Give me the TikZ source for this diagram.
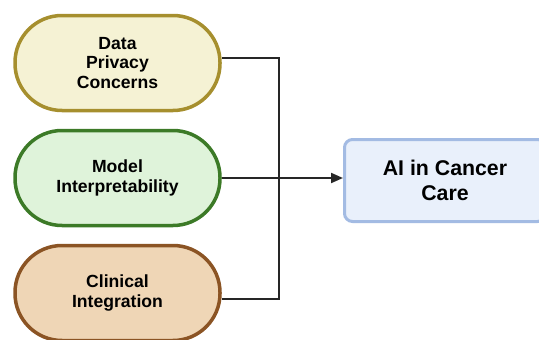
\documentclass[tikz,border=0pt]{standalone}
\usepackage{fontspec}
\setmainfont{Liberation Sans}
\usepackage{tikz}
\usetikzlibrary{arrows.meta}

\definecolor{privacyfill}{HTML}{F5F2D4}
\definecolor{privacyline}{HTML}{A68F2E}
\definecolor{modelfill}{HTML}{DFF3DA}
\definecolor{modelline}{HTML}{3C7A27}
\definecolor{clinicfill}{HTML}{EFD6B6}
\definecolor{clinicline}{HTML}{8B5424}
\definecolor{carefill}{HTML}{E9F0FB}
\definecolor{careline}{HTML}{A3BBE3}

\begin{document}
\begin{tikzpicture}[
    x=1pt, y=-1pt,
    factor/.style={
        minimum width=205pt, minimum height=95pt,
        rounded corners=47pt, line width=3.5pt,
        align=center, font=\bfseries\fontsize{17.6}{19.8}\selectfont
    },
    outcome/.style={
        minimum width=201pt, minimum height=82pt,
        rounded corners=8pt, line width=3pt, draw=careline, fill=carefill,
        align=center, font=\bfseries\fontsize{21.3}{25}\selectfont
    },
    link/.style={line width=2pt, draw=black!85}
]
\useasboundingbox (0,0) rectangle (539,340);

\node[factor, draw=privacyline, fill=privacyfill] (privacy) at (117.5,63) {Data\\Privacy\\Concerns};
\node[factor, draw=modelline, fill=modelfill] (model) at (117.5,178) {Model\\Interpretability};
\node[factor, draw=clinicline, fill=clinicfill] (clinical) at (117.5,293) {Clinical\\Integration};
\node[outcome] (care) at (445,180.5) {AI in Cancer\\Care};

\coordinate (join) at (279,178);

\draw[link] ([yshift=5pt]privacy.east) -| (join) |- ([yshift=-6pt]clinical.east);
\draw[link, -{Triangle[length=12pt,width=10pt]}] (model.east) -- (model.east -| care.west);
\end{tikzpicture}
\end{document}
